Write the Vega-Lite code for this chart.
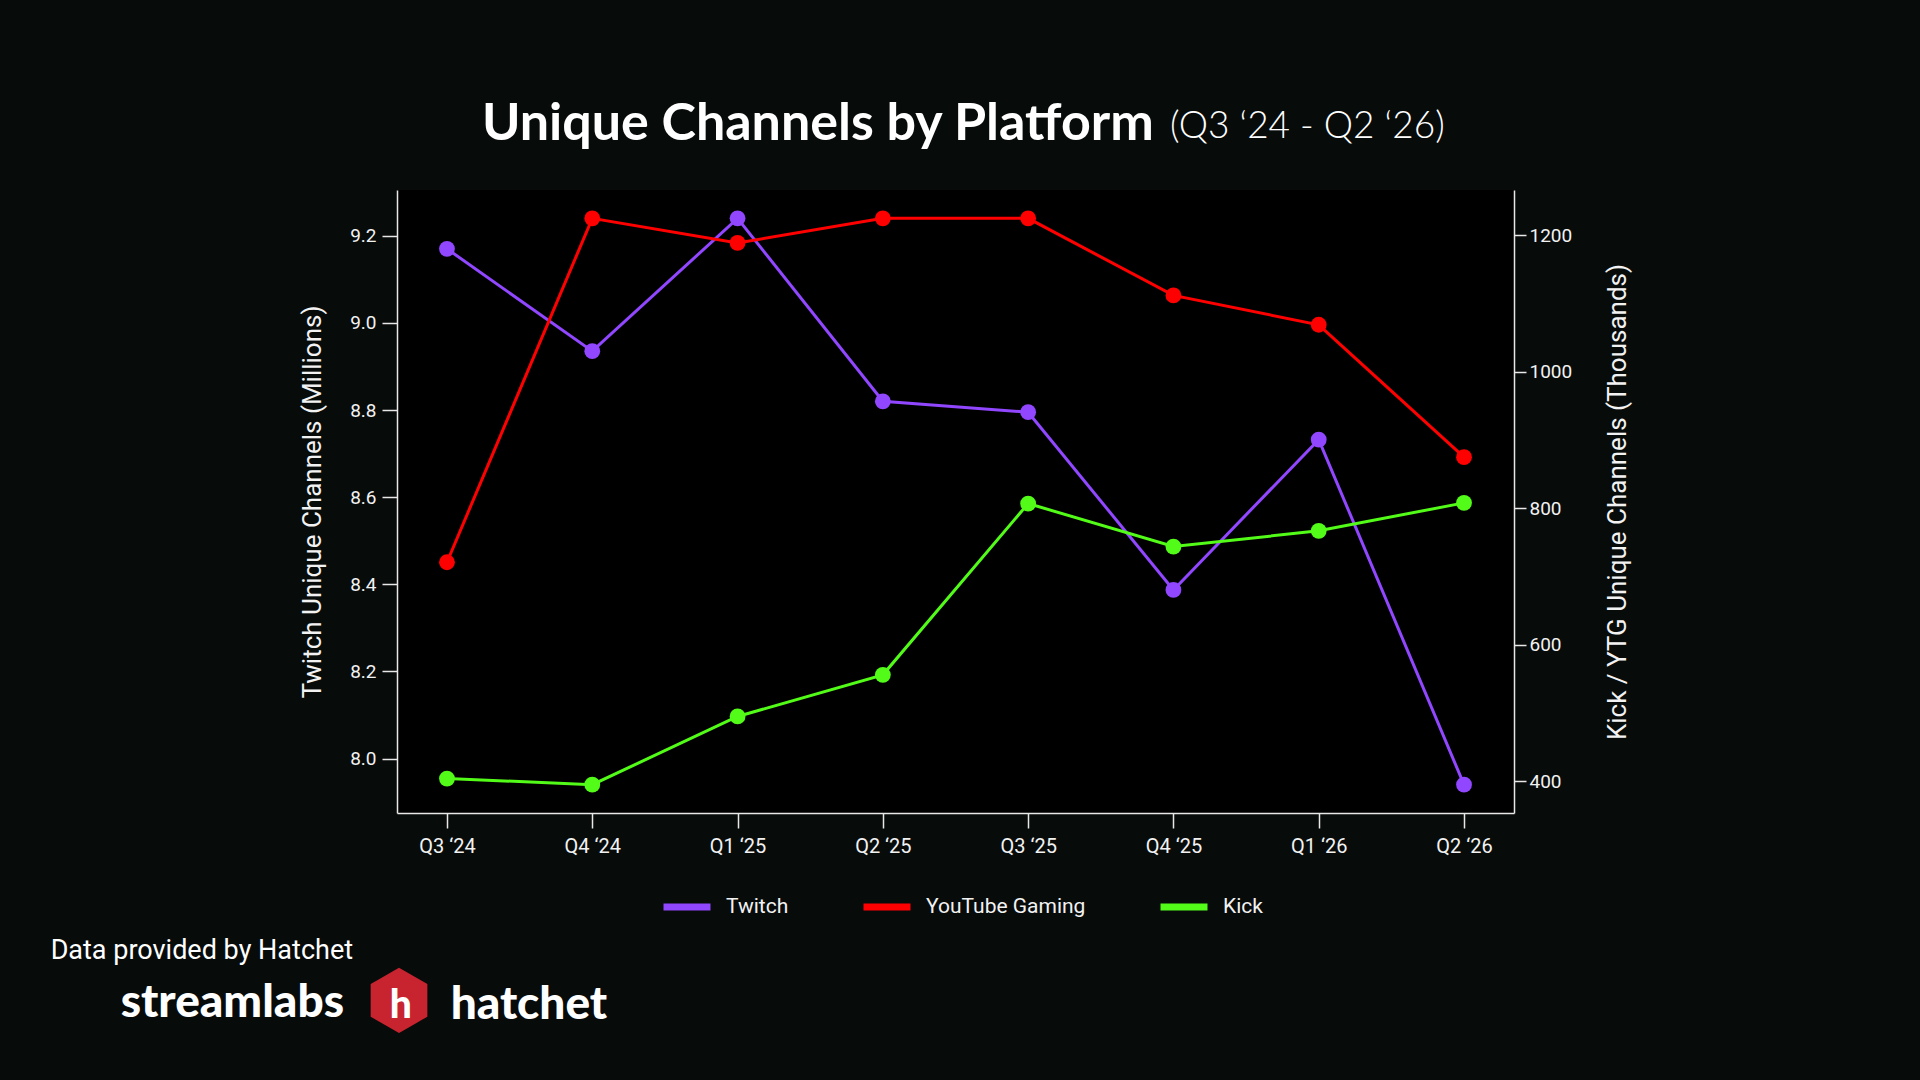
{
  "$schema": "https://vega.github.io/schema/vega-lite/v6.json",
  "background": "#070b0a",
  "padding": {"left": 50, "top": 98, "right": 292, "bottom": 41},
  "config": {
    "view": {"fill": "#000000", "stroke": null},
    "font": "Roboto",
    "title": {"color": "#ffffff", "frame": "bounds", "anchor": "start", "baseline": "alphabetic", "offset": 0},
    "axis": {
      "grid": false,
      "domainColor": "#e8e8e8",
      "domainWidth": 1.5,
      "tickColor": "#e8e8e8",
      "tickWidth": 1.5,
      "labelColor": "#f2f2f2",
      "labelFont": "Roboto",
      "labelFontSize": 19,
      "titleColor": "#f2f2f2",
      "titleFont": "Roboto",
      "titleFontSize": 26,
      "titleFontWeight": "normal"
    }
  },
  "title": {"text": "hatchet", "orient": "bottom", "font": "Lato", "fontWeight": 900, "fontSize": 46, "dx": 400, "dy": -63},
  "vconcat": [{
    "title": {"text": "h", "orient": "bottom", "font": "Lato", "fontWeight": 900, "fontSize": 39, "dx": 339, "dy": -59},
    "vconcat": [{
      "title": {"text": "⬢", "orient": "bottom", "font": "DejaVu Sans", "fontSize": 78, "color": "#c8242f", "dx": 314, "dy": -66},
      "vconcat": [{
        "title": {"text": "streamlabs", "orient": "bottom", "font": "Lato", "fontWeight": 900, "fontSize": 46, "dx": 70, "dy": 13},
        "vconcat": [{
          "title": {"text": "Data provided by Hatchet", "orient": "bottom", "font": "Roboto", "fontWeight": "normal", "fontSize": 27, "dx": -249, "dy": 78},
          "vconcat": [{
            "title": {"text": "Unique Channels by Platform", "orient": "top", "anchor": "end", "font": "Lato", "fontWeight": "bold", "fontSize": 52, "dx": -477, "dy": 47},
            "vconcat": [{
              "title": {"text": "(Q3 ‘24 - Q2 ‘26)", "orient": "top", "frame": "group", "anchor": "start", "font": "Lato", "fontWeight": 300, "fontSize": 37, "dx": 773, "dy": -40},
              "width": 1117,
              "height": 623,
              "data": {
                "values": [
                  {"quarter": "Q3 ‘24", "platform": "Twitch", "value": 9.17},
                  {"quarter": "Q4 ‘24", "platform": "Twitch", "value": 8.935},
                  {"quarter": "Q1 ‘25", "platform": "Twitch", "value": 9.24},
                  {"quarter": "Q2 ‘25", "platform": "Twitch", "value": 8.82},
                  {"quarter": "Q3 ‘25", "platform": "Twitch", "value": 8.795},
                  {"quarter": "Q4 ‘25", "platform": "Twitch", "value": 8.387},
                  {"quarter": "Q1 ‘26", "platform": "Twitch", "value": 8.732},
                  {"quarter": "Q2 ‘26", "platform": "Twitch", "value": 7.94},
                  {"quarter": "Q3 ‘24", "platform": "YouTube Gaming", "value": 721},
                  {"quarter": "Q4 ‘24", "platform": "YouTube Gaming", "value": 1225},
                  {"quarter": "Q1 ‘25", "platform": "YouTube Gaming", "value": 1189},
                  {"quarter": "Q2 ‘25", "platform": "YouTube Gaming", "value": 1225},
                  {"quarter": "Q3 ‘25", "platform": "YouTube Gaming", "value": 1225},
                  {"quarter": "Q4 ‘25", "platform": "YouTube Gaming", "value": 1112},
                  {"quarter": "Q1 ‘26", "platform": "YouTube Gaming", "value": 1069},
                  {"quarter": "Q2 ‘26", "platform": "YouTube Gaming", "value": 875},
                  {"quarter": "Q3 ‘24", "platform": "Kick", "value": 404},
                  {"quarter": "Q4 ‘24", "platform": "Kick", "value": 395},
                  {"quarter": "Q1 ‘25", "platform": "Kick", "value": 495},
                  {"quarter": "Q2 ‘25", "platform": "Kick", "value": 556},
                  {"quarter": "Q3 ‘25", "platform": "Kick", "value": 807},
                  {"quarter": "Q4 ‘25", "platform": "Kick", "value": 744},
                  {"quarter": "Q1 ‘26", "platform": "Kick", "value": 767},
                  {"quarter": "Q2 ‘26", "platform": "Kick", "value": 808}
                ]
              },
              "encoding": {
                "x": {
                  "field": "quarter",
                  "type": "ordinal",
                  "sort": ["Q3 ‘24", "Q4 ‘24", "Q1 ‘25", "Q2 ‘25", "Q3 ‘25", "Q4 ‘25", "Q1 ‘26", "Q2 ‘26"],
                  "scale": {"type": "point", "padding": 0.344},
                  "axis": {"title": null, "labelAngle": 0, "labelFontSize": 20, "tickSize": 15, "labelPadding": 8}
                },
                "color": {
                  "field": "platform",
                  "type": "nominal",
                  "scale": {"domain": ["Twitch", "YouTube Gaming", "Kick"], "range": ["#9146ff", "#ff0000", "#53fc18"]},
                  "legend": {
                    "title": null,
                    "orient": "none",
                    "direction": "horizontal",
                    "legendX": 263,
                    "legendY": 690,
                    "padding": 0,
                    "symbolType": "stroke",
                    "symbolSize": 2209,
                    "symbolStrokeWidth": 7,
                    "labelFont": "Roboto",
                    "labelFontSize": 21,
                    "labelColor": "#f2f2f2",
                    "labelOffset": 12,
                    "labelLimit": 300,
                    "columnPadding": 60
                  }
                }
              },
              "layer": [
                {
                  "transform": [{"filter": "datum.platform === 'Twitch'"}],
                  "mark": {"type": "line", "strokeWidth": 3, "point": {"filled": true, "size": 250, "opacity": 1}},
                  "encoding": {
                    "y": {
                      "field": "value",
                      "type": "quantitative",
                      "scale": {"domain": [7.875, 9.305], "nice": false, "zero": false},
                      "axis": {
                        "orient": "left",
                        "title": "Twitch Unique Channels (Millions)",
                        "values": [8.0, 8.2, 8.4, 8.6, 8.8, 9.0, 9.2],
                        "format": ".1f",
                        "tickSize": 15,
                        "labelPadding": 6,
                        "titlePadding": 24
                      }
                    }
                  }
                },
                {
                  "transform": [{"filter": "datum.platform !== 'Twitch'"}],
                  "mark": {"type": "line", "strokeWidth": 3, "point": {"filled": true, "size": 250, "opacity": 1}},
                  "encoding": {
                    "y": {
                      "field": "value",
                      "type": "quantitative",
                      "scale": {"domain": [353.5, 1266.5], "nice": false, "zero": false},
                      "axis": {
                        "orient": "right",
                        "title": "Kick / YTG Unique Channels (Thousands)",
                        "values": [400, 600, 800, 1000, 1200],
                        "format": "d",
                        "tickSize": 12,
                        "labelPadding": 3,
                        "titleAngle": 270,
                        "titleBaseline": "top",
                        "titlePadding": 33
                      }
                    }
                  }
                }
              ],
              "resolve": {"scale": {"y": "independent"}, "axis": {"y": "independent"}}
            }]
          }]
        }]
      }]
    }]
  }]
}
